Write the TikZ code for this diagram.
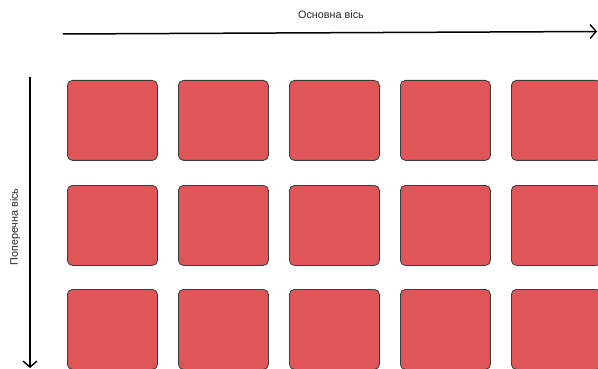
\documentclass[tikz,border=0pt]{standalone}
\usepackage{fontspec}
\setmainfont{Liberation Sans}
\usetikzlibrary{arrows.meta}
\definecolor{boxred}{RGB}{224,85,87}
\definecolor{boxedge}{RGB}{60,60,60}
\begin{document}
\begin{tikzpicture}[x=1pt,y=-1pt,
  cell/.style={draw=boxedge,line width=0.8pt,fill=boxred,rounded corners=5pt,
    minimum width=90pt,minimum height=80pt,inner sep=0pt,anchor=north west},
  axis/.style={line width=1.5pt,-{Straight Barb[length=6pt,width=14pt,line width=1.4pt]}},
  lbl/.style={font=\fontsize{10.8}{12}\selectfont,inner sep=0pt,text=black!85}]
\useasboundingbox (0,0) rectangle (598,369);
\clip (0,0) rectangle (598,369);
\foreach \c/\x in {1/67,2/178,3/289,4/400,5/511}{
  \foreach \r/\y in {1/80,2/185,3/289}{
    \node[cell] (b\r\c) at (\x,\y) {};
  }
}
\coordinate (hs) at (63,34);
\coordinate (he) at (597,31.5);
\coordinate (vs) at (30,77);
\coordinate (ve) at (30,368);
\draw[axis] (hs) -- (he);
\draw[axis] (vs) -- (ve);
\node[lbl] (ht) at (331,15) {Основна вісь};
\node[lbl,rotate=90] (vt) at (15,227) {Поперечна вісь};
\end{tikzpicture}
\end{document}
